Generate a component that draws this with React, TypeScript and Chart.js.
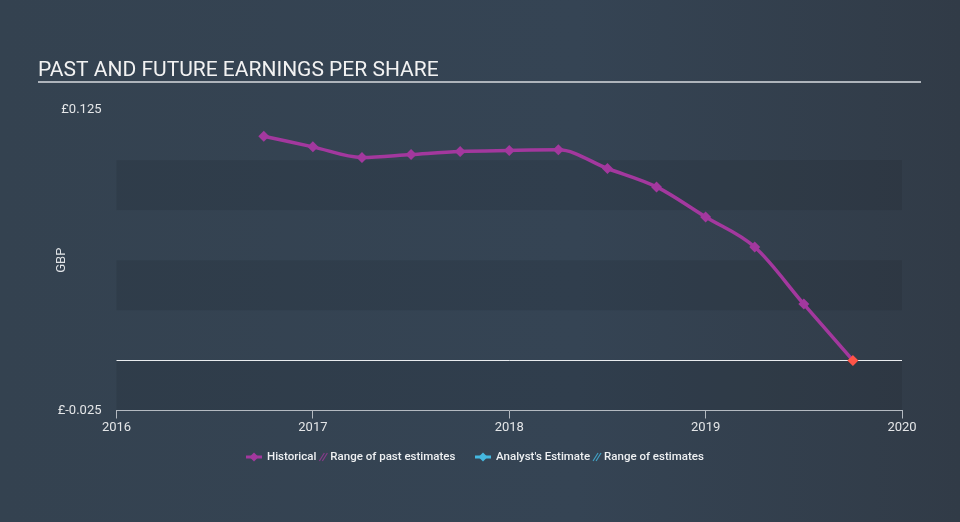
import React, { useEffect, useRef } from 'react';
import { Chart, registerables } from 'chart.js';

Chart.register(...registerables);

// ---- data ----
const quarterEnds = [2016.75, 2017.0, 2017.25, 2017.5, 2017.75, 2018.0, 2018.25, 2018.5, 2018.75, 2019.0, 2019.25, 2019.5, 2019.75];
const epsHistorical = [0.1119, 0.1066, 0.1013, 0.1028, 0.1043, 0.1048, 0.1051, 0.0958, 0.0866, 0.0716, 0.0566, 0.0281, 0.0];
const yearTicks = [2016, 2017, 2018, 2019, 2020];
const yTickValues = [-0.025, 0.125];
const darkBands = [[0.075, 0.1], [0.025, 0.05], [-0.025, 0]];
const titleText = 'PAST AND FUTURE EARNINGS PER SHARE';
const yAxisTitle = 'GBP';
const legendLabels = ['Historical', 'Range of past estimates', "Analyst's Estimate", 'Range of estimates'];

const MAGENTA = '#a3389e';
const RED = '#ff5447';
const CYAN = '#45b8e0';
const FONT = 'Roboto, "Noto Sans", sans-serif';

function diamond(ctx: CanvasRenderingContext2D, x: number, y: number, r: number, color: string) {
  ctx.beginPath();
  ctx.moveTo(x, y - r);
  ctx.lineTo(x + r, y);
  ctx.lineTo(x, y + r);
  ctx.lineTo(x - r, y);
  ctx.closePath();
  ctx.fillStyle = color;
  ctx.fill();
}

function hatch(ctx: CanvasRenderingContext2D, x: number, y: number, color: string) {
  ctx.save();
  ctx.strokeStyle = color;
  ctx.lineWidth = 1.2;
  for (let i = 0; i < 2; i++) {
    ctx.beginPath();
    ctx.moveTo(x + i * 3, y + 4);
    ctx.lineTo(x + i * 3 + 5, y - 4);
    ctx.stroke();
  }
  ctx.restore();
}

const decorPlugin = {
  id: 'decor',
  beforeDraw(chart: any) {
    const { ctx, width, height, chartArea, scales } = chart;
    ctx.save();
    const g = ctx.createLinearGradient(0, 0, width, 0);
    g.addColorStop(0, '#344250');
    g.addColorStop(0.6, '#354454');
    g.addColorStop(1, '#313b47');
    ctx.fillStyle = g;
    ctx.fillRect(0, 0, width, height);

    // bands
    const y = scales.y;
    ctx.fillStyle = 'rgba(0,0,0,0.08)';
    darkBands.forEach(([lo, hi]) => {
      const top = y.getPixelForValue(hi);
      const bot = y.getPixelForValue(lo);
      ctx.fillRect(chartArea.left, top, chartArea.right - chartArea.left, bot - top);
    });

    // title
    ctx.fillStyle = '#f2f2f2';
    ctx.font = `21px ${FONT}`;
    ctx.textAlign = 'left';
    ctx.textBaseline = 'alphabetic';
    ctx.fillText(titleText, 38, 76);
    ctx.strokeStyle = '#aeb4bb';
    ctx.lineWidth = 2;
    ctx.beginPath();
    ctx.moveTo(38, 82);
    ctx.lineTo(921, 82);
    ctx.stroke();

    // y axis title
    ctx.save();
    ctx.translate(62, (chartArea.top + chartArea.bottom) / 2);
    ctx.rotate(-Math.PI / 2);
    ctx.fillStyle = '#dfe2e5';
    ctx.font = `13px ${FONT}`;
    ctx.textAlign = 'center';
    ctx.textBaseline = 'middle';
    ctx.fillText(yAxisTitle, 0, 0);
    ctx.restore();

    // legend
    const ly = 457;
    let x = 246;
    ctx.font = `500 11.5px ${FONT}`;
    ctx.textBaseline = 'middle';
    ctx.textAlign = 'left';
    const drawIcon = (color: string) => {
      ctx.strokeStyle = color;
      ctx.lineWidth = 3;
      ctx.beginPath();
      ctx.moveTo(x, ly);
      ctx.lineTo(x + 16, ly);
      ctx.stroke();
      diamond(ctx, x + 8, ly, 4.5, color);
      x += 21;
    };
    const drawText = (t: string) => {
      ctx.fillStyle = '#eef0f2';
      ctx.fillText(t, x, ly);
      x += ctx.measureText(t).width;
    };
    drawIcon(MAGENTA);
    drawText(legendLabels[0]);
    x += 3;
    hatch(ctx, x, ly, 'rgba(163,56,158,0.75)');
    x += 11;
    drawText(legendLabels[1]);
    x = 475;
    drawIcon(CYAN);
    drawText(legendLabels[2]);
    x += 3;
    hatch(ctx, x, ly, 'rgba(69,184,224,0.8)');
    x += 11;
    drawText(legendLabels[3]);
    ctx.restore();
  },
  beforeDatasetsDraw(chart: any) {
    const { ctx, chartArea, scales } = chart;
    const y0 = scales.y.getPixelForValue(0);
    ctx.save();
    ctx.strokeStyle = '#e9ecef';
    ctx.lineWidth = 1;
    ctx.beginPath();
    ctx.moveTo(chartArea.left, Math.round(y0) + 0.5);
    ctx.lineTo(chartArea.right, Math.round(y0) + 0.5);
    ctx.stroke();
    ctx.restore();
  },
};

export default function App() {
  const ref = useRef<HTMLCanvasElement>(null);
  useEffect(() => {
    document.body.style.margin = '0';
    const canvas = ref.current!;
    const last = epsHistorical.length - 1;
    const chart = new Chart(canvas, {
      type: 'line',
      data: {
        datasets: [
          {
            label: legendLabels[0],
            data: quarterEnds.map((q, i) => ({ x: q, y: epsHistorical[i] })),
            borderColor: MAGENTA,
            borderWidth: 3.5,
            cubicInterpolationMode: 'monotone',
            pointStyle: 'rectRot',
            pointRadius: 5.5,
            pointBorderWidth: 0,
            pointBackgroundColor: (c: any) => (c.dataIndex === last ? RED : MAGENTA),
            pointBorderColor: (c: any) => (c.dataIndex === last ? RED : MAGENTA),
          },
        ],
      },
      options: {
        animation: false,
        responsive: false,
        layout: { padding: { left: 0, right: 58, top: 110, bottom: 0 } },
        plugins: { legend: { display: false }, tooltip: { enabled: false }, title: { display: false } },
        scales: {
          x: {
            type: 'linear',
            min: 2016,
            max: 2020,
            afterBuildTicks: (s: any) => {
              s.ticks = yearTicks.map((v) => ({ value: v }));
            },
            afterFit: (s: any) => {
              s.height = 111.5;
            },
            grid: { drawOnChartArea: false, drawTicks: true, tickLength: 8, color: '#b4bac1', lineWidth: 1 },
            border: { display: true, color: '#b4bac1', width: 1 },
            ticks: {
              color: '#e4e6e8',
              font: { family: FONT, size: 13 },
              padding: 1,
              maxRotation: 0,
              autoSkip: false,
              callback: (v: any) => String(v),
            },
          },
          y: {
            type: 'linear',
            min: -0.025,
            max: 0.125,
            afterBuildTicks: (s: any) => {
              s.ticks = yTickValues.map((v) => ({ value: v }));
            },
            afterFit: (s: any) => {
              s.width = 116.5;
            },
            grid: { display: false, drawTicks: false },
            border: { display: false },
            ticks: {
              color: '#e4e6e8',
              font: { family: FONT, size: 13 },
              padding: 15,
              callback: (v: any) => '£' + String(v),
            },
          },
        },
      },
      plugins: [decorPlugin],
    } as any);
    return () => chart.destroy();
  }, []);
  return (
    <div style={{ width: 960, height: 522, position: 'relative' }}>
      <canvas ref={ref} width={960} height={522} style={{ display: 'block', width: 960, height: 522 }} />
    </div>
  );
}
